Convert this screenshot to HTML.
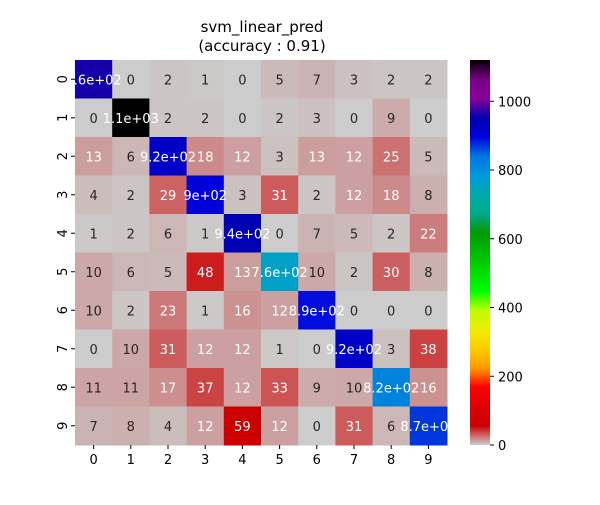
<!DOCTYPE html>
<html><head><meta charset="utf-8"><style>
body{margin:0;background:#fff;font-family:"Liberation Sans","DejaVu Sans",sans-serif}
</style></head><body>
<svg id="chart" width="600" height="500" xmlns="http://www.w3.org/2000/svg" font-family="DejaVu Sans, Liberation Sans, sans-serif">
<defs><linearGradient id="cbg" x1="0" y1="1" x2="0" y2="0"></linearGradient></defs>
<text x="262" y="32" text-anchor="middle" font-size="15">svm_linear_pred</text>
<text x="262" y="51" text-anchor="middle" font-size="15">(accuracy : 0.91)</text>
<g id="cells"></g><g id="xt"></g><g id="yt"></g><g id="cb"></g>
</svg>
<script>
const xLabels=["0","1","2","3","4","5","6","7","8","9"];
const yLabels=["0","1","2","3","4","5","6","7","8","9"];
const row0=[960,0,2,1,0,5,7,3,2,2];
const row1=[0,1120,2,2,0,2,3,0,9,0];
const row2=[13,6,920,18,12,3,13,12,25,5];
const row3=[4,2,29,900,3,31,2,12,18,8];
const row4=[1,2,6,1,940,0,7,5,2,22];
const row5=[10,6,5,48,13,760,10,2,30,8];
const row6=[10,2,23,1,16,12,890,0,0,0];
const row7=[0,10,31,12,12,1,0,920,3,38];
const row8=[11,11,17,37,12,33,9,10,820,16];
const row9=[7,8,4,12,59,12,0,31,6,870];
const matrix=[row0,row1,row2,row3,row4,row5,row6,row7,row8,row9];
const cbTicks=[0,200,400,600,800,1000];
const vmax=1120;
const NS="http://www.w3.org/2000/svg";
const X0=75,Y0=60,W=372,H=385,n=10,cw=W/n,ch=H/n;
const cmap=[[0,0,0],[.4667,0,.5333],[.5333,0,.6],[0,0,.6667],[0,0,.8667],[0,.4667,.8667],[0,.6,.8667],[0,.6667,.6667],[0,.6667,.5333],[0,.6,0],[0,.7333,0],[0,.8667,0],[0,1,0],[.7333,1,0],[.9333,.9333,0],[1,.8,0],[1,.6,0],[1,0,0],[.8667,0,0],[.8,0,0],[.8,.8,.8]];
function color(v){let t=1-Math.min(Math.max(v/vmax,0),1);let p=t*20,i=Math.min(Math.floor(p),19),f=p-i;
 const a=cmap[i],b=cmap[i+1];return a.map((c,k)=>c+(b[k]-c)*f);}
function css(c){return "rgb("+c.map(x=>Math.round(x*255)).join(",")+")";}
function lum(c){const l=c.map(x=>x<=0.03928?x/12.92:Math.pow((x+0.055)/1.055,2.4));return .2126*l[0]+.7152*l[1]+.0722*l[2];}
function fmt(v){if(v<100)return String(v);const e=Math.floor(Math.log10(v));let m=(v/Math.pow(10,e)).toFixed(1);if(m.endsWith(".0"))m=m.slice(0,-2);return m+"e+"+String(e).padStart(2,"0");}
const sx=j=>X0+j*cw, sy=i=>Y0+i*ch;
const cells=document.getElementById("cells");
matrix.forEach((row,i)=>row.forEach((v,j)=>{
 const c=color(v);
 const r=document.createElementNS(NS,"rect");
 
 
 r.setAttribute("x",sx(j));r.setAttribute("y",sy(i));r.setAttribute("width",cw+0.5);r.setAttribute("height",ch+0.5);r.setAttribute("fill",css(c));
 cells.appendChild(r);
}));
matrix.forEach((row,i)=>row.forEach((v,j)=>{
 const c=color(v);
 const t=document.createElementNS(NS,"text");
 
 
 t.setAttribute("x",sx(j)+cw/2);t.setAttribute("y",sy(i)+ch/2+5);t.setAttribute("text-anchor","middle");t.setAttribute("font-size","13");
 t.setAttribute("fill",lum(c)>0.408?"#262626":"#ffffff");t.textContent=fmt(v);cells.appendChild(t);
}));
const xt=document.getElementById("xt");
xLabels.forEach((l,j)=>{
 const ln=document.createElementNS(NS,"line");
 
 
 const x=sx(j)+cw/2;ln.setAttribute("x1",x);ln.setAttribute("x2",x);ln.setAttribute("y1",Y0+H);ln.setAttribute("y2",Y0+H+4);ln.setAttribute("stroke","#000");xt.appendChild(ln);
 const t=document.createElementNS(NS,"text");
 
 
 t.setAttribute("x",x);t.setAttribute("y",Y0+H+19);t.setAttribute("text-anchor","middle");t.setAttribute("font-size","13");t.textContent=l;xt.appendChild(t);
});
const yt=document.getElementById("yt");
yLabels.forEach((l,i)=>{
 const y=sy(i)+ch/2;
 const ln=document.createElementNS(NS,"line");
 
 
 ln.setAttribute("x1",X0-4);ln.setAttribute("x2",X0);ln.setAttribute("y1",y);ln.setAttribute("y2",y);ln.setAttribute("stroke","#000");yt.appendChild(ln);
 const t=document.createElementNS(NS,"text");
 
 
 t.setAttribute("x",X0-13);t.setAttribute("y",y);t.setAttribute("text-anchor","middle");t.setAttribute("font-size","13");
 t.setAttribute("transform","rotate(-90 "+(X0-13)+" "+y+")");t.setAttribute("dy","5");t.textContent=l;yt.appendChild(t);
});
const g=document.getElementById("cbg");
for(let k=0;k<=40;k++){const s=document.createElementNS(NS,"stop");s.setAttribute("offset",k/40);s.setAttribute("stop-color",css(color(k/40*vmax)));g.appendChild(s);}
const cb=document.getElementById("cb");
const CX=470,CW=20;
const cr=document.createElementNS(NS,"rect");


cr.setAttribute("x",CX);cr.setAttribute("y",Y0);cr.setAttribute("width",CW);cr.setAttribute("height",H);cr.setAttribute("fill","url(#cbg)");cb.appendChild(cr);
cbTicks.forEach(v=>{
 const y=Y0+H-v/vmax*H;
 const ln=document.createElementNS(NS,"line");
 
 
 ln.setAttribute("x1",CX+CW);ln.setAttribute("x2",CX+CW+4);ln.setAttribute("y1",y);ln.setAttribute("y2",y);ln.setAttribute("stroke","#000");cb.appendChild(ln);
 const t=document.createElementNS(NS,"text");
 
 
 t.setAttribute("x",CX+CW+8);t.setAttribute("y",y+5);t.setAttribute("font-size","13");t.textContent=v;cb.appendChild(t);
});
</script>
</body></html>
